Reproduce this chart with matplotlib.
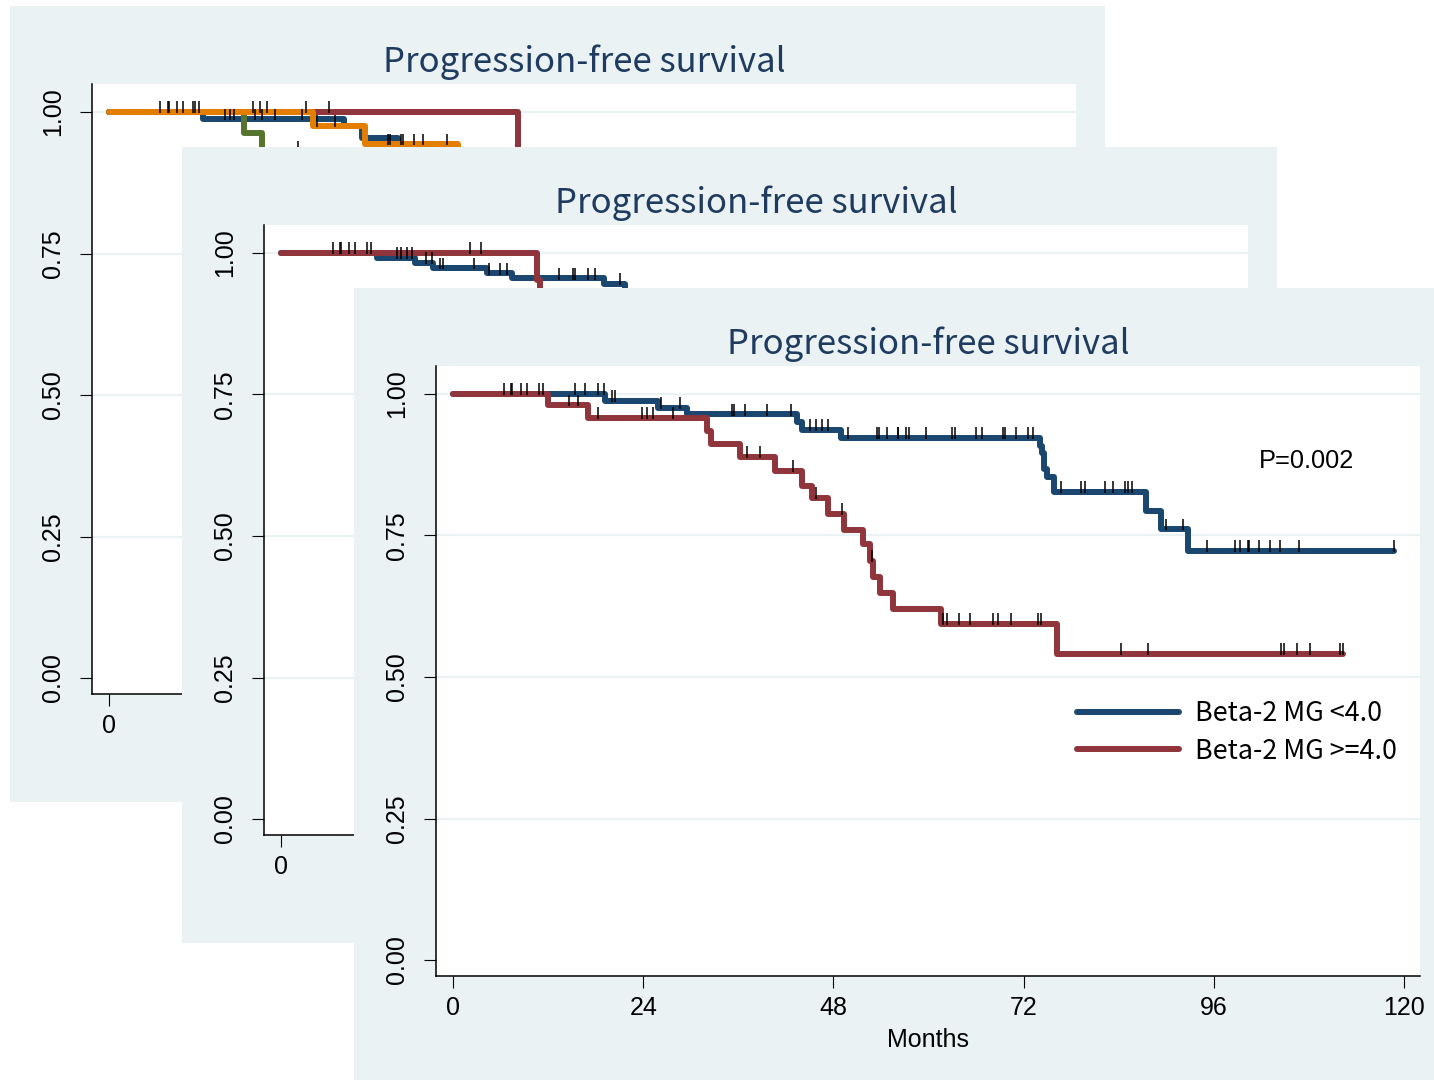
import numpy as np
import matplotlib
matplotlib.use("Agg")
import matplotlib.pyplot as plt

# ---- data ----
months_ticks = [0, 24, 48, 72, 96, 120]
surv_ticks = [0.0, 0.25, 0.5, 0.75, 1.0]
title_text = "Progression-free survival"
p_value_text = "P=0.002"

# back panel: four groups (mostly hidden)
back_navy_t = [0, 11.9, 29.6, 31.9, 36.5, 43.0, 60.0]
back_navy_s = [1.0, 0.987, 0.975, 0.954, 0.943, 0.925, 0.925]
back_maroon_t = [0, 51.6, 60.0]
back_maroon_s = [1.0, 0.900, 0.900]
back_green_t = [0, 17.0, 19.3, 30.0]
back_green_s = [1.0, 0.963, 0.929, 0.929]
back_orange_t = [0, 25.8, 32.3, 44.1, 60.0]
back_orange_s = [1.0, 0.976, 0.943, 0.920, 0.920]
back_maroon_cens = [6.4, 7.4, 7.6, 8.6, 9.4, 10.6, 10.8, 11.3, 18.2, 19.1, 19.9, 24.9, 27.7]
back_navy_cens = [14.6, 15.3, 15.8, 18.4, 19.3, 20.9, 24.4]
back_green_cens = [23.8]
back_orange_cens = [26.3, 28.5, 35.2, 35.5, 36.9, 37.1, 38.5, 39.6, 42.7]

# middle panel: two groups (mostly hidden)
mid_blue_t = [0, 12.1, 16.9, 19.2, 26.0, 29.1, 40.7, 43.4, 60.0]
mid_blue_s = [1.0, 0.991, 0.982, 0.973, 0.964, 0.955, 0.946, 0.930, 0.930]
mid_red_t = [0, 32.3, 32.7, 50.0]
mid_red_s = [1.0, 0.952, 0.900, 0.900]
mid_blue_cens = [14.6, 15.2, 15.9, 16.5, 18.3, 19.0, 20.1, 20.4, 24.4, 26.3, 27.6, 28.5,
                 35.1, 36.9, 37.1, 38.7, 39.6, 42.8]
mid_red_cens = [6.5, 7.4, 7.6, 8.6, 9.4, 10.8, 11.4, 23.8, 25.2]

# front panel: Beta-2 MG
front_labels = ["Beta-2 MG <4.0", "Beta-2 MG >=4.0"]
low_t = [0, 19.2, 25.9, 29.5, 43.4, 44.1, 48.9, 74.1, 74.3, 74.6, 74.9, 75.8,
         87.4, 89.3, 92.7, 118.7]
low_s = [1.0, 0.988, 0.976, 0.964, 0.950, 0.937, 0.923, 0.909, 0.895, 0.868, 0.854, 0.827,
         0.793, 0.761, 0.723, 0.723]
high_t = [0, 12.0, 17.0, 32.0, 32.6, 36.2, 40.6, 44.0, 45.3, 47.3, 49.3, 51.7, 52.6,
          53.0, 53.9, 55.5, 61.6, 76.2, 112.3]
high_s = [1.0, 0.980, 0.958, 0.935, 0.912, 0.889, 0.864, 0.837, 0.816, 0.788, 0.760,
          0.735, 0.705, 0.677, 0.649, 0.621, 0.594, 0.541, 0.541]
low_cens = [6.4, 7.5, 8.6, 10.8, 15.4, 16.6, 18.3, 19.0, 20.0, 20.4, 26.3, 28.6, 35.2, 35.5,
            36.9, 39.6, 42.7, 45.1, 45.8, 46.5, 47.3, 49.9, 53.5, 53.8, 54.8, 56.1, 56.2,
            57.2, 57.5, 59.7, 63.0, 63.3, 66.0, 66.8, 69.4, 69.7, 71.0, 72.6, 73.2, 76.7,
            79.3, 79.8, 82.3, 83.3, 84.8, 85.2, 85.7, 90.0, 92.1, 95.1, 98.7, 99.3, 100.3,
            100.5, 101.7, 103.1, 104.4, 106.8, 118.7]
high_cens = [7.3, 9.3, 11.4, 14.7, 15.8, 18.3, 23.8, 24.5, 25.2, 27.7, 37.1, 38.7, 42.9,
             45.8, 49.1, 52.9, 61.8, 62.3, 63.8, 65.2, 68.1, 68.8, 70.4, 73.8, 74.2, 84.3,
             87.7, 104.5, 104.9, 106.5, 108.1, 111.9, 112.3]

NAVY = "#1a476f"
MAROON = "#90353b"
GREEN = "#55752f"
ORANGE = "#e37e00"
BG = "#eaf2f3"
TITLE_C = "#1f3b5f"

W, H = 1434, 1080
fig = plt.figure(figsize=(W / 100, H / 100), dpi=100)
fig.patch.set_facecolor("white")


def level_at(t, s, c):
    i = np.searchsorted(t, c, side="right") - 1
    return s[i]


def make_panel(i):
    left = 10 + 172 * i
    top = 6 + 141 * i
    pw, ph = 1095, 796
    bg = fig.add_axes([left / W, 1 - (top + ph) / H, pw / W, ph / H])
    bg.set_facecolor(BG)
    bg.set_xticks([])
    bg.set_yticks([])
    for sp in bg.spines.values():
        sp.set_visible(False)
    bg.set_zorder(3 * i)

    ax = fig.add_axes([(left + 82) / W, 1 - (top + 78 + 610) / H, 984 / W, 610 / H])
    ax.set_zorder(3 * i + 1)
    ax.set_facecolor("white")
    ax.set_xlim(-17 / 7.925, 120 + 16 / 7.925)
    ax.set_ylim(-16 / 566, 1 + 28 / 566)
    ax.spines["top"].set_visible(False)
    ax.spines["right"].set_visible(False)
    ax.spines["left"].set_linewidth(1.1)
    ax.spines["bottom"].set_linewidth(1.1)
    ax.set_xticks(months_ticks)
    ax.set_yticks(surv_ticks)
    ax.set_yticklabels([f"{v:.2f}" for v in surv_ticks])
    ax.tick_params(length=8.5, width=0.8, labelsize=18)
    ax.tick_params(axis="x", pad=6)
    ax.tick_params(axis="y", pad=11)
    for lab in ax.get_yticklabels():
        lab.set_rotation(90)
        lab.set_va("center")
    for lab in ax.get_xticklabels() + ax.get_yticklabels():
        lab.set_family("Liberation Sans")
    for v in surv_ticks[1:]:
        ax.axhline(v, color=BG, lw=1.6, zorder=0)
    ax.text(0.5, 1 + 22 / 610, title_text, transform=ax.transAxes, ha="center",
            va="center", fontsize=25, color=TITLE_C, family="Noto Sans CJK JP")
    return ax


def km(ax, t, s, color, label=None):
    ax.plot(t, s, drawstyle="steps-post", color=color, lw=4.3,
            solid_joinstyle="round", solid_capstyle="round", label=label, zorder=2)


def cens(ax, t, s, times):
    lv = np.array([level_at(np.array(t), np.array(s), c) for c in times])
    ax.vlines(times, lv - 0.002, lv + 0.019, color="black", lw=1.1, zorder=3)


# back panel
ax0 = make_panel(0)
km(ax0, back_navy_t, back_navy_s, NAVY)
km(ax0, back_maroon_t, back_maroon_s, MAROON)
km(ax0, back_green_t, back_green_s, GREEN)
km(ax0, back_orange_t, back_orange_s, ORANGE)
cens(ax0, back_maroon_t, back_maroon_s, back_maroon_cens)
cens(ax0, back_navy_t, back_navy_s, back_navy_cens)
cens(ax0, back_green_t, back_green_s, back_green_cens)
cens(ax0, back_orange_t, back_orange_s, back_orange_cens)

# middle panel
ax1 = make_panel(1)
km(ax1, mid_blue_t, mid_blue_s, NAVY)
km(ax1, mid_red_t, mid_red_s, MAROON)
cens(ax1, mid_blue_t, mid_blue_s, mid_blue_cens)
cens(ax1, mid_red_t, mid_red_s, mid_red_cens)

# front panel
ax2 = make_panel(2)
km(ax2, low_t, low_s, NAVY, front_labels[0])
km(ax2, high_t, high_s, MAROON, front_labels[1])
cens(ax2, low_t, low_s, low_cens)
cens(ax2, high_t, high_s, high_cens)
ax2.set_xlabel("Months", fontsize=18, family="Liberation Sans", labelpad=6)
ax2.text(0.836, 0.845, p_value_text, transform=ax2.transAxes, fontsize=18.3,
         family="Liberation Sans", ha="left", va="center")
leg = ax2.legend(loc="upper left", bbox_to_anchor=(0.651, 0.452), frameon=False,
                 prop={"family": "Noto Sans CJK JP", "size": 19.4},
                 handlelength=3.8, handletextpad=0.6, labelspacing=0.38, borderpad=0,
                 borderaxespad=0)

fig.savefig("out.png", dpi=100, facecolor="white")
